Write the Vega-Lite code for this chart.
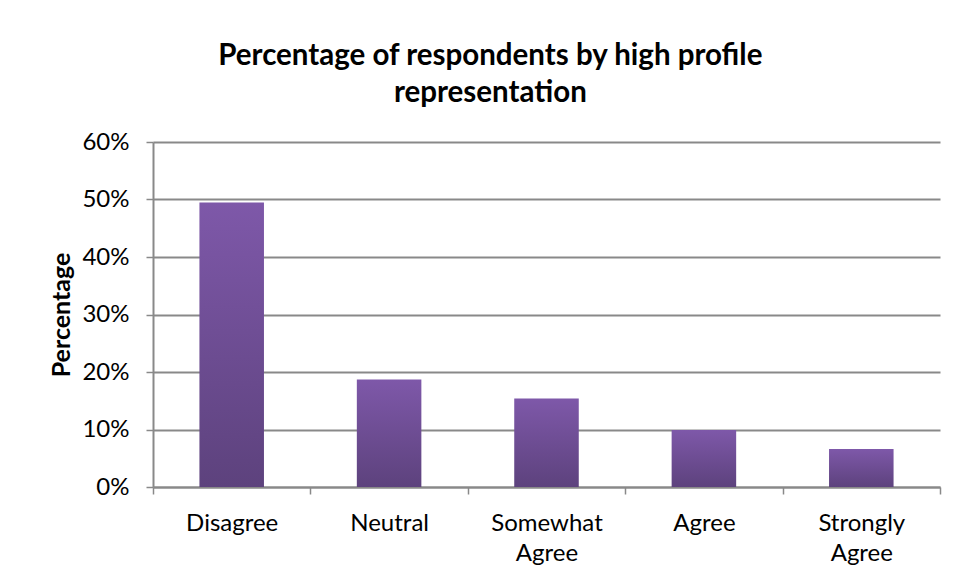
{
  "$schema": "https://vega.github.io/schema/vega-lite/v6.json",
  "width": 787,
  "height": 345,
  "autosize": {"type": "none"},
  "padding": {"left": 153, "top": 142, "right": 15, "bottom": 93},
  "background": "#ffffff",
  "title": {
    "text": ["Percentage of respondents by high profile", "representation"],
    "font": "Lato",
    "fontSize": 29.5,
    "fontWeight": "bold",
    "color": "#000000",
    "anchor": "middle",
    "frame": "bounds",
    "lineHeight": 37,
    "offset": 22,
    "dx": -5
  },
  "data": {
    "values": [
      {"response": "Disagree", "share": 0.495},
      {"response": "Neutral", "share": 0.187},
      {"response": "Somewhat Agree", "share": 0.154},
      {"response": "Agree", "share": 0.099},
      {"response": "Strongly Agree", "share": 0.066}
    ]
  },
  "mark": {
    "type": "bar",
    "width": {"band": 0.41},
    "color": {
      "gradient": "linear",
      "x1": 0, "y1": 0, "x2": 0, "y2": 1,
      "stops": [
        {"offset": 0, "color": "#7e58a9"},
        {"offset": 1, "color": "#5d427d"}
      ]
    }
  },
  "encoding": {
    "x": {
      "field": "response",
      "type": "nominal",
      "sort": null,
      "scale": {"paddingInner": 0, "paddingOuter": 0},
      "axis": {
        "title": null,
        "labelAngle": 0,
        "labelExpr": "split(datum.label, ' ')",
        "labelLineHeight": 30,
        "labelPadding": 17,
        "tickBand": "extent",
        "tickSize": 7,
        "grid": false
      }
    },
    "y": {
      "field": "share",
      "type": "quantitative",
      "scale": {"domain": [0, 0.6]},
      "axis": {
        "title": "Percentage",
        "values": [0, 0.1, 0.2, 0.3, 0.4, 0.5, 0.6],
        "format": ".0%",
        "tickSize": 7,
        "labelPadding": 17,
        "titlePadding": 7,
        "grid": true
      }
    }
  },
  "config": {
    "view": {"stroke": null},
    "axis": {
      "labelFont": "Lato",
      "labelFontSize": 24,
      "labelColor": "#000000",
      "titleFont": "Lato",
      "titleFontSize": 25,
      "titleFontWeight": "bold",
      "titleColor": "#000000",
      "domainColor": "#898989",
      "domainWidth": 2,
      "tickColor": "#898989",
      "tickWidth": 1.5,
      "gridColor": "#898989",
      "gridWidth": 2
    }
  }
}
